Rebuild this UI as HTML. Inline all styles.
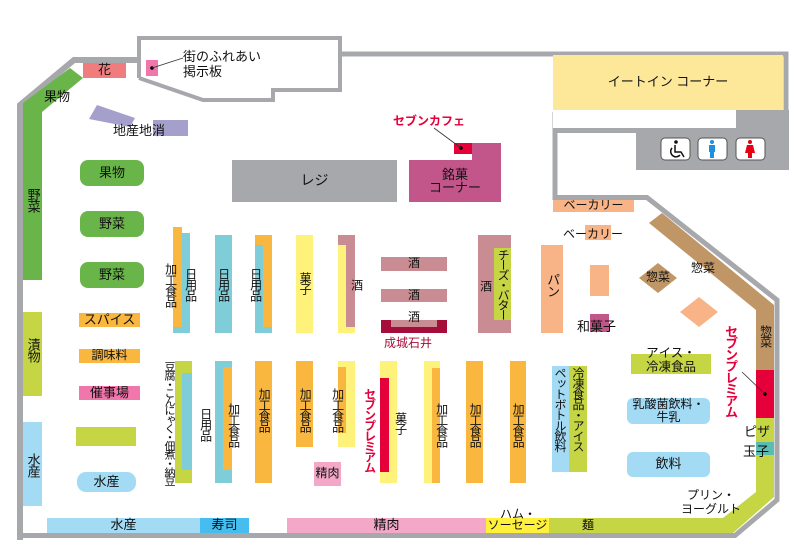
<!DOCTYPE html>
<html><head><meta charset="utf-8">
<style>
body{margin:0;background:#fff;}
#m{position:relative;width:802px;height:552px;overflow:hidden;font-family:"Liberation Sans","Noto Sans CJK JP",sans-serif;font-size:12px;color:#111;}
.a{position:absolute;white-space:nowrap;}
.c{position:absolute;display:flex;align-items:center;justify-content:center;text-align:center;line-height:1.1;white-space:nowrap;}
.v{writing-mode:vertical-rl;text-orientation:upright;letter-spacing:-1px;white-space:nowrap;}
svg{position:absolute;left:0;top:0;}
</style></head><body>
<div id="m">
<svg width="802" height="552">
 <polyline points="20,540 20,105 74,60 140,60" fill="none" stroke="#a7a8ab" stroke-width="6"/>
 <polyline points="20,535.5 735,535.5 777,500 777,300 647,197.5 555,197.5 555,112" fill="none" stroke="#a7a8ab" stroke-width="5"/>
 <polyline points="342,54 786,54 786,170" fill="none" stroke="#a7a8ab" stroke-width="5"/>
 <polyline points="139,78 139,38 340,38 340,90 273,90 273,100 203,100 139,78" fill="none" stroke="#a7a8ab" stroke-width="4"/>
 <rect x="636" y="112" width="153" height="58" fill="#a7a8ab"/>
 <rect x="553" y="128" width="84" height="5" fill="#a7a8ab"/>
 <rect x="553" y="110" width="183" height="18" fill="#fff"/>
 <rect x="736" y="110" width="53" height="23" fill="#a7a8ab"/>
 <rect x="553" y="55" width="230" height="55" fill="#fde89a"/>
 <rect x="661" y="138" width="29" height="22" rx="4" fill="#fff" stroke="#555"/>
 <rect x="698" y="138" width="29" height="22" rx="4" fill="#fff" stroke="#555"/>
 <rect x="736" y="138" width="29" height="22" rx="4" fill="#fff" stroke="#555"/>
 <circle cx="676" cy="142" r="1.8" fill="#111"/>
 <path d="M675 145 L675 152 L681 152 L684 157 M672 148 A5 5 0 1 0 680 155" fill="none" stroke="#111" stroke-width="1.5"/>
 <circle cx="712" cy="142" r="2" fill="#1e90e0"/>
 <rect x="709" y="145" width="6" height="7" fill="#1e90e0"/><rect x="710" y="152" width="4" height="6" fill="#1e90e0"/>
 <circle cx="750" cy="142" r="2" fill="#e60012"/>
 <polygon points="747,145 753,145 755,153 745,153" fill="#e60012"/><rect x="748" y="153" width="4" height="5" fill="#e60012"/>
 <polygon points="23,103 70,68 83,78 42,112 42,280 23,280" fill="#6ab54a"/>
 <rect x="23" y="312" width="19" height="84" fill="#c5d544"/>
 <rect x="23" y="422" width="19" height="84" fill="#a3daf4"/>
 <rect x="83" y="63" width="43" height="15" fill="#f07c7e"/>
 <rect x="146" y="60" width="12" height="16" fill="#ef77ac"/>
 <circle cx="152" cy="68" r="1.8" fill="#000"/><line x1="152" y1="68" x2="183" y2="58" stroke="#333" stroke-width="0.8"/>
 <polygon points="97,105 135,118 130,127 89,119" fill="#a59fcc"/>
 <rect x="153" y="120" width="35" height="16" fill="#a59fcc"/>
 <rect x="80" y="160" width="64" height="26" rx="8" fill="#6ab54a"/>
 <rect x="80" y="211" width="64" height="26" rx="8" fill="#6ab54a"/>
 <rect x="80" y="262" width="64" height="26" rx="8" fill="#6ab54a"/>
 <rect x="79" y="313" width="61" height="14" fill="#f9b73f"/>
 <rect x="79" y="349" width="61" height="14" fill="#f9b73f"/>
 <rect x="79" y="386" width="61" height="14" fill="#ef77ac"/>
 <rect x="76" y="427" width="60" height="19" fill="#c5d544"/>
 <rect x="77" y="472" width="59" height="20" rx="9" fill="#a3daf4"/>
 <rect x="173" y="227" width="9" height="106" fill="#f9b73f"/>
 <rect x="182" y="233" width="8" height="100" fill="#7fcdd8"/>
 <rect x="173" y="327" width="17" height="6" fill="#7fcdd8"/>
 <rect x="215" y="235" width="17" height="98" fill="#7fcdd8"/>
 <rect x="255" y="235" width="17" height="92" fill="#f9b73f"/>
 <rect x="255" y="245" width="8" height="88" fill="#7fcdd8"/>
 <rect x="255" y="327" width="17" height="6" fill="#7fcdd8"/>
 <rect x="296" y="235" width="17" height="98" fill="#fff27a"/>
 <rect x="338" y="235" width="17" height="92" fill="#c98c92"/>
 <rect x="338" y="245" width="8" height="88" fill="#fff27a"/>
 <rect x="338" y="327" width="17" height="6" fill="#fff27a"/>
 <rect x="381" y="257" width="66" height="14" fill="#c98c92"/>
 <rect x="381" y="289" width="66" height="13" fill="#c98c92"/>
 <rect x="381" y="320" width="66" height="13" fill="#a50d3a"/>
 <rect x="391" y="320" width="46" height="7" fill="#c98c92"/>
 <rect x="478" y="235" width="33" height="98" fill="#c98c92"/>
 <rect x="494" y="248" width="17" height="72" fill="#c5d544"/>
 <rect x="232" y="160" width="165" height="42" fill="#a7a8ab"/>
 <rect x="409" y="160" width="92" height="42" fill="#c2568b"/>
 <rect x="472" y="143" width="29" height="17" fill="#c2568b"/>
 <rect x="454" y="143" width="18" height="11" fill="#e6003a"/>
 <circle cx="461" cy="148" r="1.8" fill="#000"/><line x1="461" y1="148" x2="434" y2="128" stroke="#333" stroke-width="0.8"/>
 <rect x="553" y="200" width="81" height="12" fill="#f8b487"/>
 <rect x="585" y="225" width="26" height="15" fill="#f8b487"/>
 <rect x="541" y="245" width="22" height="88" fill="#f8b487"/>
 <rect x="590" y="265" width="19" height="31" fill="#f8b487"/>
 <rect x="590" y="314" width="19" height="18" fill="#c2568b"/>
 <polygon points="658,263 677,278 658,293 639,278" fill="#c09666"/>
 <polygon points="699,297 718,312 699,327 680,312" fill="#f8b487"/>
 <polygon points="649,223 662,213 774,305 774,370 756,370 756,310" fill="#c09666"/>
 <rect x="756" y="370" width="18" height="48" fill="#e6003a"/>
 <circle cx="765" cy="394" r="1.8" fill="#000"/><line x1="765" y1="394" x2="742" y2="372" stroke="#333" stroke-width="0.8"/>
 <rect x="756" y="418" width="18" height="24" fill="#c5d544"/>
 <rect x="756" y="442" width="18" height="13" fill="#5bbcb2"/>
 <polygon points="756,455 774,455 774,497 733,533 549,533 549,518 723,518 756,492" fill="#c5d544"/>
 <rect x="175" y="361" width="17" height="122" fill="#c5d544"/>
 <rect x="182" y="373" width="10" height="97" fill="#7fcdd8"/>
 <rect x="215" y="361" width="17" height="122" fill="#7fcdd8"/>
 <rect x="223" y="367" width="9" height="103" fill="#f9b73f"/>
 <rect x="255" y="361" width="17" height="122" fill="#f9b73f"/>
 <rect x="296" y="361" width="17" height="86" fill="#f9b73f"/>
 <rect x="338" y="361" width="17" height="86" fill="#fff27a"/>
 <rect x="338" y="367" width="8" height="66" fill="#f9b73f"/>
 <rect x="380" y="361" width="17" height="122" fill="#fff27a"/>
 <rect x="380" y="378" width="9" height="94" fill="#e6003a"/>
 <rect x="424" y="361" width="16" height="122" fill="#fff27a"/>
 <rect x="432" y="368" width="8" height="104" fill="#f9b73f"/>
 <rect x="432" y="472" width="8" height="11" fill="#f9b73f"/>
 <rect x="466" y="361" width="17" height="122" fill="#f9b73f"/>
 <rect x="510" y="361" width="16" height="122" fill="#f9b73f"/>
 <rect x="552" y="366" width="17" height="106" fill="#a3daf4"/>
 <rect x="569" y="366" width="18" height="106" fill="#c5d544"/>
 <rect x="314" y="462" width="27" height="24" fill="#f4a8c8"/>
 <rect x="631" y="354" width="80" height="20" fill="#c5d544"/>
 <rect x="627" y="398" width="83" height="26" rx="6" fill="#a3daf4"/>
 <rect x="627" y="452" width="83" height="25" rx="6" fill="#a3daf4"/>
 <rect x="47" y="518" width="153" height="15" fill="#a3daf4"/>
 <rect x="200" y="518" width="49" height="15" fill="#45bdee"/>
 <rect x="287" y="518" width="199" height="15" fill="#f4a8c8"/>
 <rect x="486" y="518" width="63" height="15" fill="#fff03c"/>
</svg>

<div class="c" style="left:83px;top:63px;width:43px;height:15px;font-size:13px">花</div>
<div class="a" style="left:183px;top:49px;font-size:13px;line-height:15px">街のふれあい<br>掲示板</div>
<div class="a" style="left:44px;top:86px;font-size:13px">果物</div>
<div class="a" style="left:113px;top:120px;font-size:13px">地産地消</div>
<div class="c v" style="left:23px;top:180px;width:19px;height:40px;font-size:13px">野菜</div>
<div class="c v" style="left:23px;top:330px;width:19px;height:40px;font-size:13px">漬物</div>
<div class="c v" style="left:23px;top:445px;width:19px;height:40px;font-size:13px">水産</div>
<div class="c" style="left:80px;top:160px;width:64px;height:26px;font-size:13px">果物</div>
<div class="c" style="left:80px;top:211px;width:64px;height:26px;font-size:13px">野菜</div>
<div class="c" style="left:80px;top:262px;width:64px;height:26px;font-size:13px">野菜</div>
<div class="c" style="left:79px;top:313px;width:61px;height:14px;font-size:13px">スパイス</div>
<div class="c" style="left:79px;top:349px;width:61px;height:14px;font-size:12px">調味料</div>
<div class="c" style="left:79px;top:386px;width:61px;height:14px;font-size:13px">催事場</div>
<div class="c" style="left:77px;top:472px;width:59px;height:20px;font-size:13px">水産</div>

<div class="c" style="left:232px;top:160px;width:165px;height:42px;font-size:14px">レジ</div>
<div class="c" style="left:409px;top:160px;width:92px;height:42px;font-size:13px;line-height:13px">銘菓<br>コーナー</div>
<div class="a" style="left:393px;top:112px;font-size:12px;color:#e6003a;font-weight:bold">セブンカフェ</div>
<div class="c" style="left:553px;top:55px;width:230px;height:55px;font-size:13px">イートイン コーナー</div>

<div class="c v" style="left:160px;top:255px;width:20px;height:60px">加工食品</div>
<div class="c v" style="left:181px;top:260px;width:18px;height:48px">日用品</div>
<div class="c v" style="left:214px;top:260px;width:18px;height:48px">日用品</div>
<div class="c v" style="left:246px;top:260px;width:18px;height:48px">日用品</div>
<div class="c v" style="left:296px;top:265px;width:17px;height:36px">菓子</div>
<div class="c v" style="left:347px;top:274px;width:18px;height:20px">酒</div>
<div class="c" style="left:381px;top:257px;width:66px;height:14px">酒</div>
<div class="c" style="left:381px;top:289px;width:66px;height:13px">酒</div>
<div class="c" style="left:381px;top:311px;width:66px;height:14px">酒</div>
<div class="a" style="left:384px;top:334px;font-size:12px;color:#a50d3a">成城石井</div>
<div class="c v" style="left:476px;top:275px;width:18px;height:20px">酒</div>
<div class="c v" style="left:494px;top:248px;width:17px;height:72px;letter-spacing:-2px">チーズ・バター</div>
<div class="c v" style="left:541px;top:265px;width:22px;height:40px;font-size:13px">パン</div>
<div class="c" style="left:553px;top:200px;width:81px;height:12px">ベーカリー</div>
<div class="a" style="left:563px;top:225px">ベーカリー</div>
<div class="a" style="left:577px;top:316px;font-size:13px">和菓子</div>
<div class="c" style="left:639px;top:270px;width:38px;height:16px">惣菜</div>
<div class="a" style="left:691px;top:259px">惣菜</div>
<div class="c v" style="left:756px;top:320px;width:18px;height:32px">惣菜</div>

<div class="a v" style="left:161px;top:361px;width:16px;font-size:11px;letter-spacing:-2.2px">豆腐・こんにゃく・佃煮・納豆</div>
<div class="c v" style="left:196px;top:400px;width:18px;height:48px">日用品</div>
<div class="c v" style="left:224px;top:395px;width:18px;height:60px">加工食品</div>
<div class="c v" style="left:255px;top:380px;width:17px;height:60px">加工食品</div>
<div class="c v" style="left:296px;top:380px;width:17px;height:60px">加工食品</div>
<div class="c v" style="left:328px;top:380px;width:18px;height:60px">加工食品</div>
<div class="c v" style="left:360px;top:380px;width:18px;height:100px;color:#e6003a;font-weight:bold;letter-spacing:-1.5px">セブンプレミアム</div>
<div class="c v" style="left:391px;top:405px;width:18px;height:36px">菓子</div>
<div class="c v" style="left:432px;top:395px;width:18px;height:60px">加工食品</div>
<div class="c v" style="left:466px;top:395px;width:17px;height:60px">加工食品</div>
<div class="c v" style="left:509px;top:395px;width:17px;height:60px">加工食品</div>
<div class="a v" style="left:552px;top:367px;width:17px;letter-spacing:-1.5px">ペットボトル飲料</div>
<div class="a v" style="left:570px;top:367px;width:17px;letter-spacing:-1.5px">冷凍食品・アイス</div>
<div class="c" style="left:314px;top:462px;width:27px;height:24px">精肉</div>
<div class="c" style="left:627px;top:344px;width:88px;height:32px;font-size:12.5px;line-height:14px">アイス・<br>冷凍食品</div>
<div class="c" style="left:622px;top:398px;width:93px;height:26px;line-height:13px">乳酸菌飲料・<br>牛乳</div>
<div class="c" style="left:627px;top:452px;width:83px;height:25px;font-size:13px">飲料</div>
<div class="c v" style="left:720px;top:326px;width:20px;height:90px;color:#e6003a;font-weight:bold;font-size:13px;letter-spacing:-1.5px">セブンプレミアム</div>
<div class="a" style="left:744px;top:421px;font-size:13px">ピザ</div>
<div class="a" style="left:743px;top:441px;font-size:13px">玉子</div>
<div class="a" style="left:681px;top:488px;line-height:14px;text-align:center">プリン・<br>ヨーグルト</div>

<div class="c" style="left:47px;top:518px;width:153px;height:15px;font-size:13px">水産</div>
<div class="c" style="left:200px;top:518px;width:49px;height:15px;font-size:13px">寿司</div>
<div class="c" style="left:287px;top:518px;width:199px;height:15px;font-size:13px">精肉</div>
<div class="a" style="left:500px;top:505px;font-size:12px">ハム・</div>
<div class="c" style="left:484px;top:518px;width:67px;height:15px;font-size:12px">ソーセージ</div>
<div class="c" style="left:578px;top:518px;width:20px;height:15px;font-size:12px">麺</div>
</div>
</body></html>
